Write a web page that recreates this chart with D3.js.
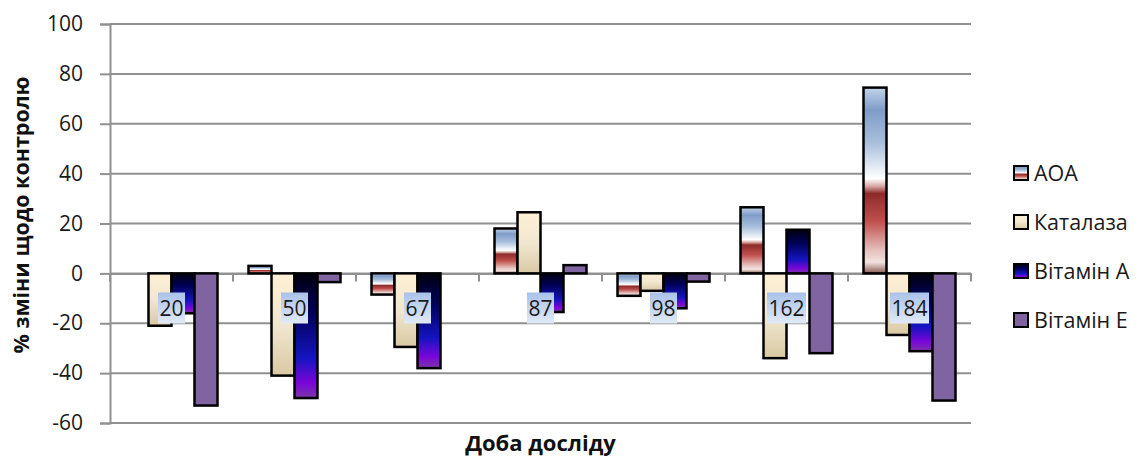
<!DOCTYPE html>
<html>
<head>
<meta charset="utf-8">
<script src="https://cdn.jsdelivr.net/npm/d3@7"></script>
<style>
  html, body { margin: 0; padding: 0; background: #fff; }
  svg { display: block; font-family: "Open Sans", "Liberation Sans", sans-serif; }
</style>
</head>
<body>
<svg id="chart" width="1139" height="457"></svg>
<script>
// ---- data ----
const categories = ["20", "50", "67", "87", "98", "162", "184"];
const seriesNames = ["АОА", "Каталаза", "Вітамін А", "Вітамін Е"];
const aoa      = [0, 3, -8.5, 18, -9, 26.5, 74.5];
const catalase = [-21, -41, -29.5, 24.5, -7, -34, -24.7];
const vitaminA = [-16, -50, -38, -15.5, -14, 17.5, -31.2];
const vitaminE = [-53, -3.5, 0, 3.3, -3.3, -32, -51];
const yTicks = [100, 80, 60, 40, 20, 0, -20, -40, -60];
const yTitle = "% зміни щодо контролю";
const xTitle = "Доба досліду";

const seriesValues = [aoa, catalase, vitaminA, vitaminE];

const svg = d3.select("#chart");
const defs = svg.append("defs");

function grad(id, stops) {
  const g = defs.append("linearGradient").attr("id", id)
    .attr("x1", 0).attr("y1", 0).attr("x2", 0).attr("y2", 1);
  stops.forEach(s => g.append("stop").attr("offset", s[0]).attr("stop-color", s[1]));
}
grad("gAOA", [[0, "#c2d4ea"], [0.12, "#7f9cc8"], [0.3, "#a9c0dc"], [0.49, "#ffffff"],
              [0.53, "#d9a9a5"], [0.57, "#8c2b2a"], [0.72, "#c0504d"], [0.88, "#e6c3bf"],
              [0.94, "#f1e2de"], [1, "#8a5a52"]]);
grad("gCat", [[0, "#fef0d4"], [0.5, "#f1e7d0"], [1, "#d9c9a3"]]);
grad("gVitA", [[0, "#00000f"], [0.3, "#000055"], [0.68, "#1414c0"], [0.88, "#7a06d8"], [1, "#7b35a8"]]);
grad("gVitE", [[0, "#8064a2"], [1, "#8064a2"]]);
grad("gLab", [[0, "#a9c2ea"], [1, "#e1eaf6"]]);
const fills = ["url(#gAOA)", "url(#gCat)", "url(#gVitA)", "url(#gVitE)"];

const plotLeft = 110, plotRight = 971, plotTop = 24, plotBottom = 423;

const x = d3.scaleBand().domain(categories).range([plotLeft, plotRight]).paddingInner(0).paddingOuter(0);
const xs = d3.scaleBand().domain(seriesNames).range([0, x.bandwidth()]).paddingInner(0).paddingOuter(0.674);
const y = d3.scaleLinear().domain([-60, 100]).range([plotBottom, plotTop]);

// gridlines
svg.append("g").selectAll("line").data(yTicks).join("line")
  .attr("x1", plotLeft).attr("x2", plotRight)
  .attr("y1", d => y(d)).attr("y2", d => y(d))
  .attr("stroke", "#909090").attr("stroke-width", 2);

// y axis
const yAxis = svg.append("g").attr("transform", `translate(${plotLeft},0)`)
  .call(d3.axisLeft(y).tickValues(yTicks).tickSize(10).tickPadding(17).tickFormat(d => String(d)));
yAxis.select(".domain").attr("stroke", "#909090").attr("stroke-width", 2);
yAxis.selectAll(".tick line").attr("stroke", "#909090").attr("stroke-width", 2);
yAxis.selectAll(".tick text").attr("font-size", 21).attr("fill", "#1a1a1a")
  .attr("font-family", "Open Sans, sans-serif");

// category axis at zero
const xAxis = svg.append("g").attr("transform", `translate(0,${y(0)})`)
  .call(d3.axisBottom(x).tickSize(0).tickFormat(""));
xAxis.select(".domain").attr("stroke", "#909090").attr("stroke-width", 2);
xAxis.selectAll(".tick").remove();
const boundaries = categories.map(c => x(c) + x.bandwidth()).concat([x(categories[0])]);
svg.append("g").selectAll("line").data(boundaries).join("line")
  .attr("x1", d => d).attr("x2", d => d)
  .attr("y1", y(0)).attr("y2", y(0) + 8)
  .attr("stroke", "#909090").attr("stroke-width", 2);

// bars
seriesNames.forEach((s, si) => {
  const data = categories.map((c, i) => ({ c, v: seriesValues[si][i] })).filter(d => d.v !== 0);
  svg.append("g").selectAll("rect").data(data).join("rect")
    .attr("x", d => x(d.c) + xs(s))
    .attr("width", xs.bandwidth())
    .attr("y", d => Math.min(y(d.v), y(0)))
    .attr("height", d => Math.abs(y(d.v) - y(0)))
    .attr("fill", fills[si])
    .attr("stroke", "#000").attr("stroke-width", 2.5);
});

// category labels
const labG = svg.append("g");
categories.forEach(c => {
  const cx = x(c) + x.bandwidth() / 2;
  const cy = 308;
  const t = labG.append("text").text(c)
    .attr("x", cx).attr("y", cy + 7.5)
    .attr("text-anchor", "middle").attr("font-size", 21).attr("fill", "#1a1a1a");
  const w = t.node().getComputedTextLength();
  labG.insert("rect", "text:last-child")
    .attr("x", cx - w / 2 - 1.5).attr("y", cy - 15.5)
    .attr("width", w + 3).attr("height", 31)
    .attr("fill", "url(#gLab)");
});

// axis titles
svg.append("text").text(yTitle)
  .attr("transform", `translate(29,${215}) rotate(-90)`)
  .attr("text-anchor", "middle").attr("font-size", 21.5).attr("font-weight", "bold").attr("fill", "#111");
svg.append("text").text(xTitle)
  .attr("x", (plotLeft + plotRight) / 2).attr("y", 451)
  .attr("text-anchor", "middle").attr("font-size", 22).attr("font-weight", "bold").attr("fill", "#111");

// legend
const legend = svg.append("g");
seriesNames.forEach((s, i) => {
  const cy = 173 + i * 49;
  legend.append("rect").attr("x", 1014).attr("y", cy - 7).attr("width", 14).attr("height", 14)
    .attr("fill", fills[i]).attr("stroke", "#000").attr("stroke-width", 2);
  legend.append("text").text(s).attr("x", 1034).attr("y", cy + 7.5)
    .attr("font-size", 21.5).attr("fill", "#1a1a1a");
});
</script>
</body>
</html>
